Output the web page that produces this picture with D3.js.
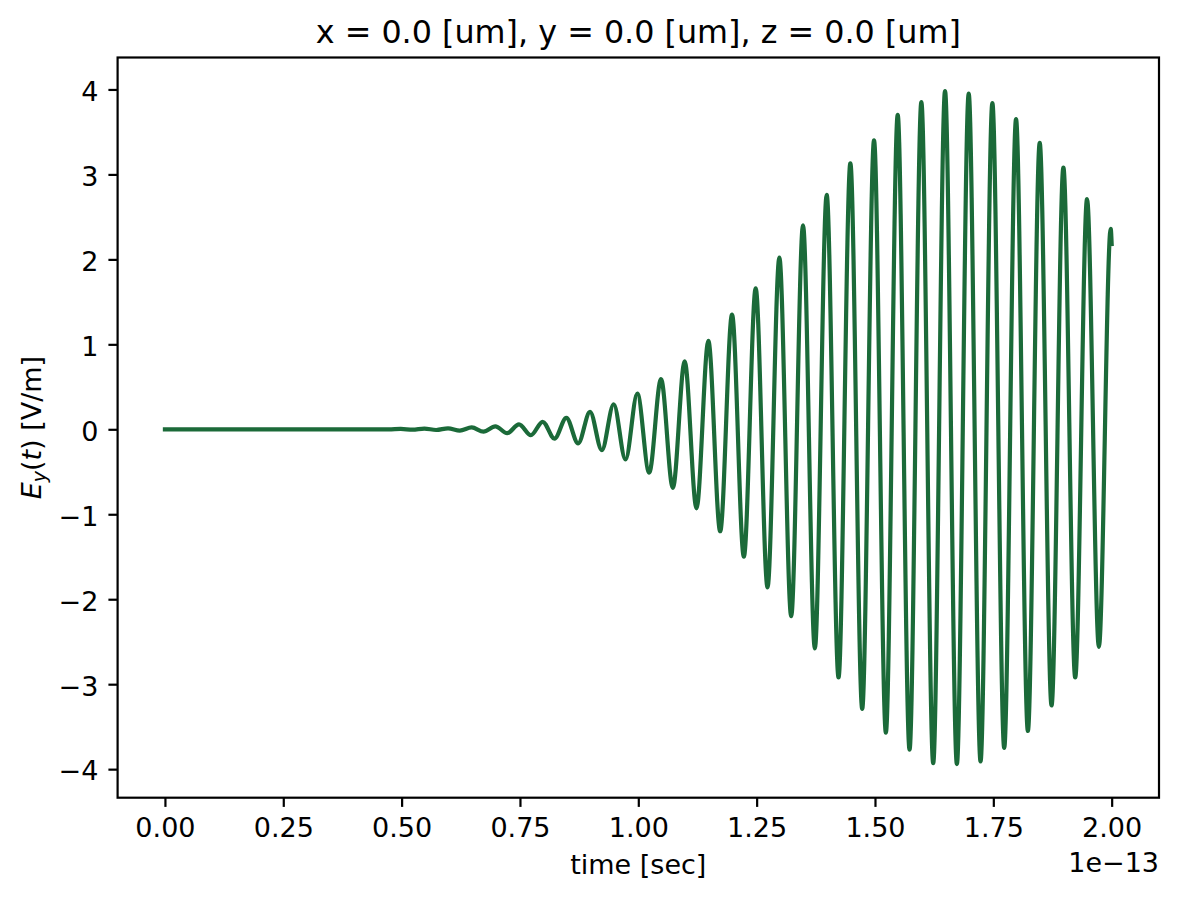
<!DOCTYPE html>
<html>
<head>
<meta charset="utf-8">
<script src="https://cdn.jsdelivr.net/npm/d3@7"></script>
<style>
  html, body { margin: 0; padding: 0; background: #ffffff; }
  svg { display: block; }
  text { font-family: "DejaVu Sans", sans-serif; fill: #000; }
</style>
</head>
<body>
<svg id="chart" width="1178" height="901"></svg>
<script>
// ---- Data (time in units of 1e-13 s, field in V/m) ----
const flatTimes  = [0.0, 0.448];
const flatValues = [0.0, 0.0];

const peakTimes  = [0.498, 0.548, 0.598, 0.648, 0.698, 0.748, 0.798, 0.848, 0.898, 0.948,
                    0.998, 1.048, 1.098, 1.148, 1.198, 1.248, 1.298, 1.348, 1.398, 1.448,
                    1.498, 1.548, 1.598, 1.648, 1.698, 1.748, 1.798, 1.848, 1.898, 1.948, 1.998];
const peakValues = [0.004, 0.008, 0.012, 0.022, 0.035, 0.058, 0.088, 0.135, 0.205, 0.295,
                    0.42, 0.59, 0.80, 1.04, 1.35, 1.66, 2.02, 2.40, 2.76, 3.13,
                    3.40, 3.70, 3.85, 3.98, 3.95, 3.84, 3.65, 3.37, 3.08, 2.71, 2.36];

const troughTimes  = [0.473, 0.523, 0.573, 0.623, 0.673, 0.723, 0.773, 0.823, 0.873, 0.923,
                      0.973, 1.023, 1.073, 1.123, 1.173, 1.223, 1.273, 1.323, 1.373, 1.423,
                      1.473, 1.523, 1.573, 1.623, 1.673, 1.723, 1.773, 1.823, 1.873, 1.923, 1.973];
const troughValues = [-0.002, -0.005, -0.008, -0.015, -0.028, -0.045, -0.07, -0.11, -0.165, -0.245,
                      -0.355, -0.51, -0.69, -0.93, -1.20, -1.50, -1.86, -2.20, -2.58, -2.92,
                      -3.29, -3.57, -3.77, -3.93, -3.94, -3.91, -3.75, -3.55, -3.25, -2.92, -2.56];

const endTimes  = [2.0];
const endValues = [2.18];

const xTicks = [0, 0.25, 0.5, 0.75, 1.0, 1.25, 1.5, 1.75, 2.0];
const yTicks = [-4, -3, -2, -1, 0, 1, 2, 3, 4];

const titleText = "x = 0.0 [um], y = 0.0 [um], z = 0.0 [um]";
const xLabelText = "time [sec]";
const offsetText = "1e\u221213";

// ---- Build series ----
const series = [];
flatTimes.forEach((t, i) => series.push({t, v: flatValues[i]}));
peakTimes.forEach((t, i) => series.push({t, v: peakValues[i]}));
troughTimes.forEach((t, i) => series.push({t, v: troughValues[i]}));
endTimes.forEach((t, i) => series.push({t, v: endValues[i]}));
series.sort((a, b) => a.t - b.t);

// ---- Layout ----
const svg = d3.select("#chart");
const L = 117.6, R = 1159, T = 57.5, B = 797.7;
const FS = 27, TFS = 31.8;
const SW = 2.2;

const tExt = d3.extent(series, d => d.t);
const vExt = d3.extent(series, d => d.v);
const tPad = (tExt[1] - tExt[0]) * 0.05;
const vPad = (vExt[1] - vExt[0]) * 0.05;

const x = d3.scaleLinear().domain([tExt[0] - tPad, tExt[1] + tPad]).range([L, R]);
const y = d3.scaleLinear().domain([vExt[0] - vPad, vExt[1] + vPad]).range([B, T]);

svg.append("rect").attr("x", 0).attr("y", 0).attr("width", 1178).attr("height", 901).attr("fill", "#fff");

// line
const line = d3.line().x(d => x(d.t)).y(d => y(d.v)).curve(d3.curveMonotoneX);
svg.append("path")
  .datum(series)
  .attr("d", line)
  .attr("fill", "none")
  .attr("stroke", "#1b6a39")
  .attr("stroke-width", 4.2)
  .attr("stroke-linejoin", "round")
  .attr("stroke-linecap", "square");

// x axis
const xAxis = d3.axisBottom(x).tickValues(xTicks).tickFormat(d3.format(".2f")).tickSize(9.2).tickPadding(9);
const gx = svg.append("g").attr("transform", `translate(0,${B})`).call(xAxis);
gx.select(".domain").remove();
gx.selectAll(".tick line").attr("stroke", "#000").attr("stroke-width", SW);
gx.selectAll(".tick text").attr("dy", null).attr("y", 39)
  .style("font-family", "DejaVu Sans").style("font-size", FS + "px").attr("fill", "#000");

// y axis
const yAxis = d3.axisLeft(y).tickValues(yTicks).tickFormat(d3.format("d")).tickSize(9.2).tickPadding(9);
const gy = svg.append("g").attr("transform", `translate(${L},0)`).call(yAxis);
gy.select(".domain").remove();
gy.selectAll(".tick line").attr("stroke", "#000").attr("stroke-width", SW);
gy.selectAll(".tick text").attr("dy", null).attr("x", -19.2).attr("y", 10.8)
  .style("font-family", "DejaVu Sans").style("font-size", FS + "px").attr("fill", "#000");

// spines
svg.append("rect")
  .attr("x", L).attr("y", T).attr("width", R - L).attr("height", B - T)
  .attr("fill", "none").attr("stroke", "#000").attr("stroke-width", SW);

// title
svg.append("text")
  .attr("x", (L + R) / 2).attr("y", 42.8)
  .attr("text-anchor", "middle")
  .style("font-size", TFS + "px")
  .text(titleText);

// x label
svg.append("text")
  .attr("x", (L + R) / 2).attr("y", 873.5)
  .attr("text-anchor", "middle")
  .style("font-size", FS + "px")
  .text(xLabelText);

// offset text
svg.append("text")
  .attr("x", R).attr("y", 871.5)
  .attr("text-anchor", "end")
  .style("font-size", FS + "px")
  .text(offsetText);

// y label: E_y(t) [V/m]
const yl = svg.append("text")
  .attr("transform", `translate(40.5,${(T + B) / 2}) rotate(-90)`)
  .attr("text-anchor", "middle")
  .style("font-size", FS + "px");
yl.append("tspan").style("font-style", "italic").text("E");
yl.append("tspan").style("font-style", "italic").style("font-size", (FS * 0.7) + "px").attr("dy", 5.5).text("y");
yl.append("tspan").attr("dy", -5.5).text("(");
yl.append("tspan").style("font-style", "italic").text("t");
yl.append("tspan").text(") [V/m]");
</script>
</body>
</html>
